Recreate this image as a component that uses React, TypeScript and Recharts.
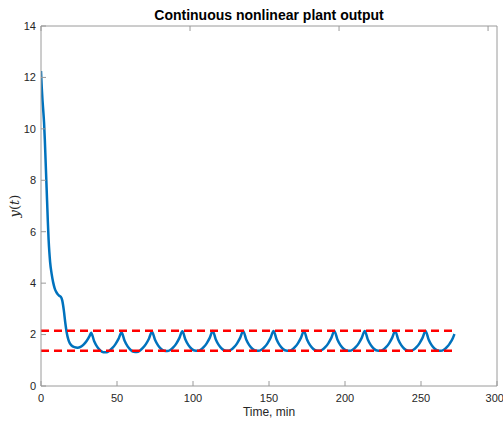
import { LineChart, Line, XAxis, YAxis, ReferenceLine, Label } from 'recharts';

// time samples (min) and plant output y(t)
const timeMin = [
  0, 0.5, 1, 1.5, 2, 2.5, 3, 3.5, 4, 4.5, 5, 5.5, 6, 7, 8, 9, 10, 11, 12, 13, 14, 15, 16, 17, 18, 19, 20,
  22, 24, 26, 28, 30, 32, 33,
  35, 37, 39, 41, 43, 45, 47, 49, 51, 53,
  55, 57, 59, 61, 63, 65, 67, 69, 71, 73,
  75, 77, 79, 81, 83, 85, 87, 89, 91, 93,
  95, 97, 99, 101, 103, 105, 107, 109, 111, 113,
  115, 117, 119, 121, 123, 125, 127, 129, 131, 133,
  135, 137, 139, 141, 143, 145, 147, 149, 151, 153,
  155, 157, 159, 161, 163, 165, 167, 169, 171, 173,
  175, 177, 179, 181, 183, 185, 187, 189, 191, 193,
  195, 197, 199, 201, 203, 205, 207, 209, 211, 213,
  215, 217, 219, 221, 223, 225, 227, 229, 231, 233,
  235, 237, 239, 241, 243, 245, 247, 249, 251, 253,
  255, 257, 259, 261, 263, 265, 267, 269, 271, 272,
];

const plantOutput = [
  12.25, 11.6, 11.1, 10.7, 10.25, 9.6, 8.8, 8.0, 7.2, 6.4, 5.7, 5.2, 4.82, 4.36, 4.03, 3.8, 3.66, 3.57, 3.51, 3.47, 3.32, 2.95, 2.45, 2.05, 1.8, 1.66, 1.58,
  1.51, 1.49, 1.52, 1.61, 1.75, 1.95, 2.07,
  1.74, 1.52, 1.38, 1.31, 1.31, 1.37, 1.48, 1.63, 1.83, 2.08,
  1.76, 1.54, 1.4, 1.33, 1.32, 1.37, 1.48, 1.63, 1.84, 2.11,
  1.8, 1.58, 1.44, 1.37, 1.36, 1.4, 1.5, 1.65, 1.86, 2.13,
  1.81, 1.59, 1.45, 1.38, 1.37, 1.41, 1.51, 1.66, 1.87, 2.14,
  1.81, 1.59, 1.45, 1.38, 1.37, 1.41, 1.51, 1.66, 1.87, 2.14,
  1.81, 1.59, 1.45, 1.38, 1.37, 1.41, 1.51, 1.66, 1.87, 2.14,
  1.81, 1.59, 1.45, 1.38, 1.37, 1.41, 1.51, 1.66, 1.87, 2.14,
  1.81, 1.59, 1.45, 1.38, 1.37, 1.41, 1.51, 1.66, 1.87, 2.14,
  1.81, 1.59, 1.45, 1.38, 1.37, 1.41, 1.51, 1.66, 1.87, 2.14,
  1.81, 1.59, 1.45, 1.38, 1.37, 1.41, 1.51, 1.66, 1.87, 2.14,
  1.81, 1.59, 1.45, 1.38, 1.37, 1.41, 1.51, 1.66, 1.87, 2.14,
  1.81, 1.59, 1.45, 1.38, 1.37, 1.41, 1.51, 1.66, 1.87, 2.02,
];

const xTicks = [0, 50, 100, 150, 200, 250, 300];
const yTicks = [0, 2, 4, 6, 8, 10, 12, 14];

// dashed band limits
const upperBound = 2.15;
const lowerBound = 1.37;
const boundStart = 0;
const boundEnd = 272;

const data = timeMin.map((t, i) => ({ t, y: plantOutput[i] }));

const axisColor = '#9a9a9a';
const textColor = '#262626';
const font = '"Liberation Sans", Arial, Helvetica, sans-serif';

const TitleLabel = ({ viewBox }: any) => (
  <text
    x={viewBox.x + viewBox.width / 2}
    y={20}
    textAnchor="middle"
    fontSize={14}
    fontWeight="bold"
    fill="#000"
    fontFamily={font}
  >
    Continuous nonlinear plant output
  </text>
);

const XLabel = ({ viewBox }: any) => (
  <text
    x={viewBox.x + viewBox.width / 2}
    y={viewBox.y + 30}
    textAnchor="middle"
    fontSize={12}
    fill={textColor}
    fontFamily={font}
  >
    Time, min
  </text>
);

const YLabel = ({ viewBox }: any) => {
  const cx = viewBox.x + 19;
  const cy = viewBox.y + viewBox.height / 2;
  return (
    <text
      x={cx}
      y={cy}
      transform={`rotate(-90 ${cx} ${cy})`}
      textAnchor="middle"
      fontSize={13}
      fill={textColor}
      fontFamily='"DejaVu Serif", "Liberation Serif", serif'
    >
      <tspan fontStyle="italic">y</tspan>(<tspan fontStyle="italic">t</tspan>)
    </text>
  );
};

export default function App() {
  return (
    <div style={{ position: 'absolute', left: 0, top: 0, width: 503, height: 422, background: '#fff' }}>
      <LineChart
        width={503}
        height={422}
        data={data}
        margin={{ top: 0, right: 0, bottom: 0, left: 0 }}
        style={{ fontFamily: font }}
      >
        <XAxis
          dataKey="t"
          type="number"
          domain={[0, 300]}
          ticks={xTicks}
          height={36}
          tickSize={-5}
          tickMargin={13}
          stroke={axisColor}
          tick={{ fill: textColor, fontSize: 11 }}
          allowDataOverflow
        >
          <Label content={<XLabel />} />
        </XAxis>
        <XAxis
          xAxisId="top"
          orientation="top"
          type="number"
          domain={[0, 300]}
          ticks={xTicks}
          height={26}
          tickSize={-5}
          stroke={axisColor}
          tickFormatter={() => ''}
        >
          <Label content={<TitleLabel />} />
        </XAxis>
        <YAxis
          type="number"
          domain={[0, 14]}
          ticks={yTicks}
          width={41}
          tickSize={-5}
          tickMargin={10}
          stroke={axisColor}
          tick={{ fill: textColor, fontSize: 11 }}
          allowDataOverflow
        >
          <Label content={<YLabel />} />
        </YAxis>
        <YAxis
          yAxisId="right"
          orientation="right"
          type="number"
          domain={[0, 14]}
          ticks={yTicks}
          width={6}
          tickSize={-5}
          stroke={axisColor}
          tickFormatter={() => ''}
        />
        <Line
          type="monotone"
          dataKey="y"
          stroke="#0072BD"
          strokeWidth={2.5}
          dot={false}
          activeDot={false}
          isAnimationActive={false}
        />
        <ReferenceLine
          segment={[{ x: boundStart, y: upperBound }, { x: boundEnd, y: upperBound }]}
          stroke="#FF0000"
          strokeWidth={2.5}
          strokeDasharray="8 5"
        />
        <ReferenceLine
          segment={[{ x: boundStart, y: lowerBound }, { x: boundEnd, y: lowerBound }]}
          stroke="#FF0000"
          strokeWidth={2.5}
          strokeDasharray="8 5"
        />
      </LineChart>
    </div>
  );
}
